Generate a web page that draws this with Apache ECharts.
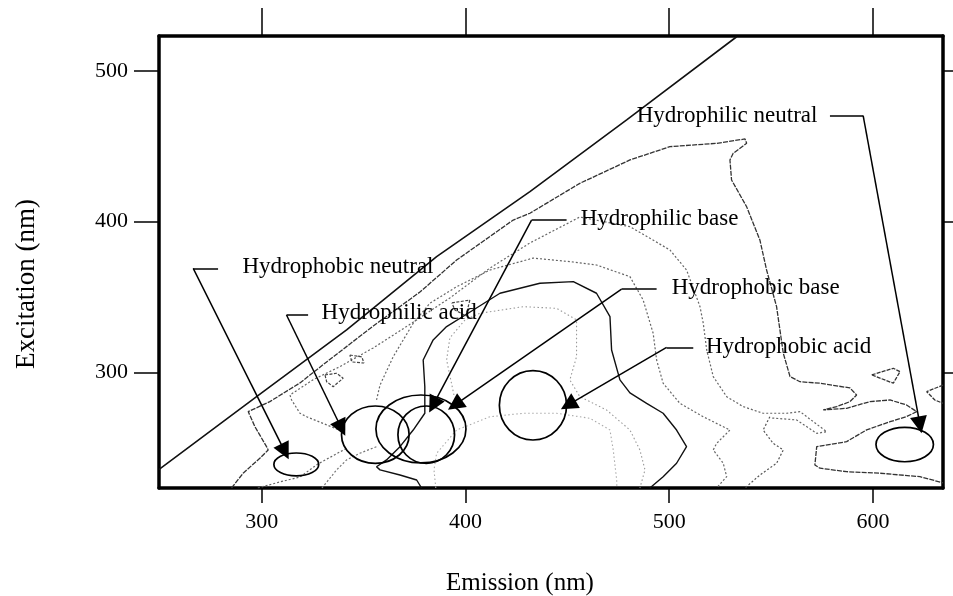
<!DOCTYPE html>
<html><head><meta charset="utf-8">
<script src="https://cdn.jsdelivr.net/npm/echarts@6/dist/echarts.min.js"></script>
<style>html,body{margin:0;padding:0;background:#fff}#c{width:953px;height:596px}</style>
</head><body><div id="c"></div>
<script>
// ---- axis ticks ----
const emissionTicks = [300, 400, 500, 600];
const excitationTicks = [300, 400, 500];

// ---- contour lines (emission nm, excitation nm) ----
const scatterEdge = [[249.4,235.8],[297.4,284.1],[341.6,328.3],[385.8,376.8],[431.6,419.9],[479.1,467.4],[533.1,522.5]];
const contourOuter = [[285.1,223.6],[290.8,233.4],[299.0,243.3],[303.1,248.8],[302.3,251.0],[296.6,264.2],[293.3,274.2],[303.9,280.8],[318.7,293.2],[331.8,307.1],[354.7,330.9],[377.6,353.4],[395.6,374.6],[423.4,401.1],[431.6,405.6],[456.1,425.4],[480.7,440.9],[500.3,449.7],[523.3,451.9],[537.2,454.8],[538.0,451.9],[531.4,445.3],[529.8,440.9],[530.6,427.6],[538.0,409.9],[544.5,387.9],[547.8,368.0],[552.7,343.7],[556.0,312.8],[559.3,297.4],[564.2,294.0],[574.0,293.0],[588.7,289.9],[592.0,285.2],[588.7,280.8],[582.2,277.5],[575.6,275.3],[587.1,276.4],[598.5,280.8],[608.4,281.9],[616.5,278.6],[621.5,274.2],[616.5,270.9],[608.4,267.5],[596.9,262.1],[587.1,254.3],[572.4,251.0],[571.5,238.8],[574.0,236.7],[587.1,234.4],[603.4,233.4],[623.1,231.1],[634.4,227.0]];
const contourMid = [[339.1,261.4],[322.0,270.8],[318.7,273.1],[314.6,281.9],[313.8,285.2],[325.0,295.2],[338.3,304.0],[354.7,316.4],[371.0,330.5],[392.3,349.5],[412.0,369.3],[431.6,385.9],[456.1,403.1],[480.7,396.7],[500.3,381.3],[508.5,368.0],[515.1,343.7],[516.7,332.7],[518.4,315.0],[521.6,297.4],[528.2,284.1],[536.3,277.5],[546.1,273.1],[557.6,273.1],[564.2,274.2],[574.0,264.2],[577.3,260.9],[572.4,259.8],[562.5,268.7],[550.0,270.0]];
const contourInner = [[356.3,281.9],[358.0,291.8],[364.5,310.6],[374.3,332.7],[382.5,346.0],[395.6,356.9],[412.0,368.0],[433.2,375.9],[452.9,373.3],[464.3,371.3],[480.7,363.6],[487.2,348.1],[492.1,326.1],[493.8,308.4],[497.0,293.0],[505.2,279.7],[516.7,270.8],[529.8,262.0],[523.3,253.2],[521.6,248.8],[526.5,240.0],[528.2,231.1],[523.3,223.6]];
const contourSolid = [[378.4,223.6],[376.0,228.9],[367.8,232.2],[358.0,235.6],[356.3,237.7],[361.2,242.2],[367.8,251.0],[374.3,262.0],[380.0,273.1],[380.0,290.7],[379.2,308.4],[384.1,321.7],[390.7,330.5],[403.8,341.5],[416.9,352.6],[436.5,359.2],[452.9,360.3],[464.3,352.6],[470.9,337.1],[471.7,315.0],[475.8,295.2],[480.7,286.6],[488.9,279.7],[497.0,273.1],[503.6,262.0],[508.5,251.0],[503.6,240.0],[497.0,231.1],[490.5,223.6]];
const contourCore = [[394.3,285.2],[390.7,308.4],[392.3,323.0],[399.7,334.9],[407.0,339.3],[428.3,343.7],[444.7,342.6],[454.5,334.9],[454.5,310.6],[451.2,295.2],[456.1,284.1],[469.2,275.3],[480.7,262.0],[485.6,248.8],[488.1,235.6],[485.6,223.6]];
const contourPeak = [[385.4,223.6],[384.5,235.6],[385.8,246.6],[395.6,262.0],[412.0,270.8],[428.3,273.1],[444.7,273.1],[461.0,269.8],[470.9,262.0],[472.5,248.8],[474.2,228.9],[474.3,223.6]];
const contourLowA = [[298.0,223.6],[308.8,227.6],[318.7,230.9],[327.5,239.5],[341.6,249.9]];
const contourLowB = [[329.5,223.6],[336.7,235.6],[341.6,242.2],[348.1,246.6],[356.3,251.0]];
const contourTail = [[549.4,270.8],[546.1,262.0],[551.0,253.2],[556.0,248.8],[552.7,240.0],[544.5,232.2],[537.2,223.6]];
const islandA = [[331.0,298.5],[336.7,299.6],[339.9,296.3],[335.0,290.7],[331.8,294.0],[331.0,298.5]];
const islandB = [[343.2,311.7],[349.1,310.4],[350.1,306.4],[344.2,307.1],[343.2,311.7]];
const islandC = [[393.3,346.2],[402.1,348.1],[400.2,337.6],[394.8,341.5],[393.3,346.2]];
const islandD = [[599.4,298.5],[610.0,302.9],[613.3,300.7],[610.0,293.0],[599.4,298.5]];
const islandE = [[634.4,291.8],[626.4,287.4],[630.4,281.9],[634.4,279.7]];

// ---- fraction regions (centre em, centre ex, half-width em, half-height ex) ----
const fractionNames = ['Hydrophobic neutral','Hydrophilic acid','Hydrophobic base','Hydrophilic base','Hydrophobic acid','Hydrophilic neutral'];
const regionEm = [316.9, 355.7, 378.1, 380.7, 433.1, 615.6];
const regionEx = [239.2, 258.9, 262.7, 258.9, 278.4, 252.4];
const regionRx = [11.0, 16.6, 22.1, 13.9, 16.5, 14.1];
const regionRy = [7.6, 19.0, 22.5, 19.0, 23.0, 11.4];

// ---- annotation labels and leaders ----
const labelEm = [290.5, 329.3, 501.2, 456.5, 518.0, 484.0];
const labelEx = [370.2, 339.3, 355.9, 401.6, 317.2, 470.2];
const leaderStartEm = [278.5, 322.7, 493.8, 449.6, 511.8, 578.9];
const leaderJoinEm  = [266.3, 312.1, 476.6, 432.4, 498.7, 595.2];
const leaderJoinEx  = [369.1, 338.2, 355.4, 401.1, 316.8, 470.2];
const arrowTipEm    = [311.3, 339.1, 394.8, 384.1, 450.4, 623.1];
const arrowTipEx    = [247.7, 263.2, 278.6, 278.6, 278.6, 265.4];

const SERIF = '"Liberation Serif","Times New Roman",serif';
const chart = echarts.init(document.getElementById('c'), null, {renderer:'canvas'});

function contour(data, color, type, width){
  return {type:'line', data:data, showSymbol:false, symbol:'none', silent:true, z:2,
          lineStyle:{color:color, type:type, width:width}, animation:false};
}

const ellipseData = regionEm.map((e,i)=>[e, regionEx[i], regionRx[i], regionRy[i]]);
const hLines = leaderStartEm.map((e,i)=>({coords:[[e, leaderJoinEx[i]],[leaderJoinEm[i], leaderJoinEx[i]]]}));
const arrows = leaderJoinEm.map((e,i)=>({coords:[[e, leaderJoinEx[i]],[arrowTipEm[i], arrowTipEx[i]]]}));
const labelData = fractionNames.map((n,i)=>[labelEm[i], labelEx[i], n]);

const axisLineStyle = {show:true, lineStyle:{color:'#000', width:3.5}};
const option = {
  animation:false,
  backgroundColor:'#fff',
  grid:{left:159, top:36, right:10, bottom:108, containLabel:false},
  xAxis:[
    {type:'value', min:249.5, max:634.4, position:'bottom',
     axisLine:axisLineStyle, splitLine:{show:false},
     axisTick:{show:true, inside:false, length:15, customValues:emissionTicks, lineStyle:{color:'#000', width:1.5}},
     axisLabel:{show:true, customValues:emissionTicks, margin:23, color:'#000', fontSize:22, fontFamily:SERIF}},
    {type:'value', min:249.5, max:634.4, position:'top',
     axisLine:axisLineStyle, splitLine:{show:false},
     axisTick:{show:true, inside:false, length:28, customValues:emissionTicks, lineStyle:{color:'#000', width:1.5}},
     axisLabel:{show:false}}
  ],
  yAxis:[
    {type:'value', min:223.6, max:523.0, position:'left',
     axisLine:axisLineStyle, splitLine:{show:false},
     axisTick:{show:true, inside:false, length:25, customValues:excitationTicks, lineStyle:{color:'#000', width:1.5}},
     axisLabel:{show:true, customValues:excitationTicks, margin:31, color:'#000', fontSize:22, fontFamily:SERIF}},
    {type:'value', min:223.6, max:523.0, position:'right',
     axisLine:axisLineStyle, splitLine:{show:false},
     axisTick:{show:true, inside:false, length:10, customValues:excitationTicks, lineStyle:{color:'#000', width:1.5}},
     axisLabel:{show:false}}
  ],
  graphic:[
    {type:'text', left:446, top:571, style:{text:'Emission (nm)', font:'25px '+SERIF, fill:'#000'}},
    {type:'text', x:27, y:284, rotation:Math.PI/2, style:{text:'Excitation (nm)', font:'27px '+SERIF, fill:'#000', align:'center', verticalAlign:'middle'}}
  ],
  series:[
    contour(contourPeak, '#aaa', [1.5,2.5], 1.1),
    contour(contourCore, '#999', [1.5,2.5], 1.1),
    contour(contourInner, '#666', [2,2], 1.2),
    contour(contourMid, '#666', [2,2], 1.2),
    contour(contourLowA, '#666', [2,2], 1.2),
    contour(contourLowB, '#777', [2,2], 1.2),
    contour(contourTail, '#555', [2,2], 1.2),
    contour(contourSolid, '#111', 'solid', 1.4),
    contour(contourOuter, '#333', [5,1.2], 1.3),
    contour(islandA, '#444', [3,1.5], 1.2),
    contour(islandB, '#444', [3,1.5], 1.2),
    contour(islandC, '#444', [3,1.5], 1.2),
    contour(islandD, '#333', [4,1.2], 1.3),
    contour(islandE, '#333', [4,1.2], 1.3),
    contour(scatterEdge, '#111', 'solid', 1.6),
    {type:'custom', data:ellipseData, z:5, silent:true, animation:false,
     renderItem:function(params, api){
       const c = api.coord([api.value(0), api.value(1)]);
       const s = api.size([api.value(2), api.value(3)]);
       const rx = s[0], ry = s[1], cx = c[0], cy = c[1];
       return {type:'path',
         shape:{pathData:'M'+(cx-rx)+' '+cy+' A'+rx+' '+ry+' 0 1 0 '+(cx+rx)+' '+cy+' A'+rx+' '+ry+' 0 1 0 '+(cx-rx)+' '+cy+' Z'},
         style:{fill:'none', stroke:'#000', lineWidth:1.7}};
     }},
    {type:'lines', coordinateSystem:'cartesian2d', data:hLines, z:6, silent:true, animation:false,
     symbol:['none','none'], lineStyle:{color:'#000', width:1.5, opacity:1}},
    {type:'lines', coordinateSystem:'cartesian2d', data:arrows, z:6, silent:true, animation:false,
     symbol:['none','triangle'], symbolSize:[11,17], lineStyle:{color:'#000', width:1.5, opacity:1}},
    {type:'scatter', data:labelData, symbolSize:0, z:7, silent:true, animation:false,
     itemStyle:{opacity:1},
     label:{show:true, position:'right', distance:0, formatter:p=>p.data[2], color:'#000', opacity:1, fontSize:23, fontFamily:SERIF}}
  ]
};
chart.setOption(option);
</script>
</body></html>
